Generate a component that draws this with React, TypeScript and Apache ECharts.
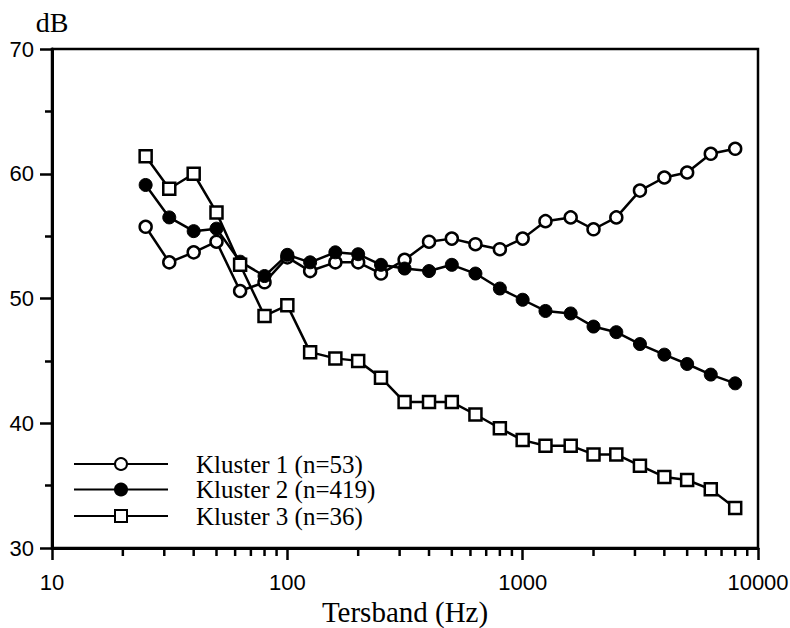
import React, { useEffect, useRef } from "react";
import * as echarts from "echarts";

const freqs = [25, 31.5, 40, 50, 63, 80, 100, 125, 160, 200, 250, 315, 400, 500, 630, 800, 1000, 1250, 1600, 2000, 2500, 3150, 4000, 5000, 6300, 8000];
const kluster1 = [55.75, 52.9, 53.7, 54.55, 50.6, 51.3, 53.3, 52.2, 52.9, 52.9, 52.0, 53.1, 54.55, 54.8, 54.35, 53.95, 54.8, 56.2, 56.5, 55.55, 56.5, 58.65, 59.7, 60.1, 61.6, 62.0];
const kluster2 = [59.1, 56.5, 55.4, 55.6, 52.95, 51.8, 53.5, 52.9, 53.7, 53.55, 52.7, 52.4, 52.2, 52.7, 52.0, 50.8, 49.9, 49.0, 48.8, 47.75, 47.3, 46.35, 45.5, 44.75, 43.9, 43.2];
const kluster3 = [61.4, 58.8, 60.0, 56.9, 52.7, 48.6, 49.45, 45.7, 45.2, 45.0, 43.65, 41.7, 41.7, 41.7, 40.7, 39.6, 38.65, 38.2, 38.2, 37.5, 37.5, 36.6, 35.7, 35.45, 34.7, 33.2];
const seriesNames = ["Kluster 1 (n=53)", "Kluster 2 (n=419)", "Kluster 3 (n=36)"];
const minorTickFreqs = [20, 30, 40, 50, 60, 70, 80, 90, 200, 300, 400, 500, 600, 700, 800, 900, 2000, 3000, 4000, 5000, 6000, 7000, 8000, 9000];
const X_MIN = 10;
const X_MAX = 10000;
const Y_MIN = 30;
const Y_MAX = 70;

const SERIF = "'Liberation Serif', 'Times New Roman', serif";
const SANS = "'Liberation Sans', Arial, sans-serif";

export default function App() {
  const ref = useRef<HTMLDivElement>(null);
  useEffect(() => {
    if (!ref.current) return;
    const chart = echarts.init(ref.current, undefined, { renderer: "svg" });
    const pair = (vals: number[]) => freqs.map((f, i) => [f, vals[i]]);
    const lineBase = {
      type: "line",
      lineStyle: { color: "#000", width: 2.5 },
      emphasis: { disabled: true },
    };
    const legendCenters = [459, 484.5, 511];
    chart.setOption({
      animation: false,
      grid: {
        left: 52, right: 32, top: 49, bottom: 80,
        containLabel: false, outerBoundsMode: "none",
        show: true, borderColor: "#000", borderWidth: 2.5,
      },
      legend: seriesNames.map((n, i) => ({
        data: [n],
        orient: "vertical",
        left: 73,
        top: legendCenters[i] - 7.5,
        padding: 0,
        itemWidth: 94,
        itemHeight: 15,
        selectedMode: false,
        textStyle: { fontFamily: SERIF, fontSize: 25, color: "#000", lineHeight: 15, padding: [0, 0, 0, 23] },
      })),
      xAxis: {
        type: "log",
        logBase: 10,
        min: X_MIN,
        max: X_MAX,
        name: "Tersband (Hz)",
        nameLocation: "middle",
        nameGap: 37,
        nameTextStyle: { fontFamily: SERIF, fontSize: 29, color: "#000" },
        axisLine: { lineStyle: { color: "#000", width: 3 } },
        axisTick: { show: true, length: 12, lineStyle: { color: "#000", width: 2.5 } },
        axisLabel: { fontFamily: SANS, fontSize: 22, color: "#000", margin: 23, formatter: (v: number) => String(Math.round(v)) },
        splitLine: { show: false },
      },
      yAxis: {
        type: "value",
        min: Y_MIN,
        max: Y_MAX,
        interval: 10,
        name: "dB",
        nameLocation: "end",
        nameGap: 13,
        nameTextStyle: { fontFamily: SERIF, fontSize: 28, color: "#000", align: "center" },
        axisLine: { show: true, lineStyle: { color: "#000", width: 3 } },
        axisTick: { show: true, length: 12, lineStyle: { color: "#000", width: 2.5 } },
        minorTick: { show: true, splitNumber: 2, length: 7, lineStyle: { color: "#000", width: 2.5 } },
        axisLabel: { fontFamily: SANS, fontSize: 22, color: "#000", margin: 18 },
        splitLine: { show: false },
      },
      series: [
        {
          ...lineBase,
          name: seriesNames[0],
          symbol: "circle",
          symbolSize: 12,
          itemStyle: { color: "#fff", borderColor: "#000", borderWidth: 2.5 },
          data: pair(kluster1),
        },
        {
          ...lineBase,
          name: seriesNames[1],
          symbol: "circle",
          symbolSize: 13,
          itemStyle: { color: "#000", borderColor: "#000", borderWidth: 1 },
          data: pair(kluster2),
        },
        {
          ...lineBase,
          name: seriesNames[2],
          symbol: "rect",
          symbolSize: 12,
          itemStyle: { color: "#fff", borderColor: "#000", borderWidth: 2.5 },
          data: pair(kluster3),
        },
        {
          type: "custom",
          silent: true,
          clip: false,
          data: minorTickFreqs.map((f) => [f, Y_MIN]),
          renderItem: (params: any, api: any) => {
            const p = api.coord([api.value(0), api.value(1)]);
            return {
              type: "line",
              shape: { x1: p[0], y1: p[1], x2: p[0], y2: p[1] + 8 },
              style: { stroke: "#000", lineWidth: 2.5 },
            };
          },
        },
      ],
    });
    return () => chart.dispose();
  }, []);
  return <div ref={ref} style={{ position: "absolute", left: 0, top: 0, width: 790, height: 628 }} />;
}
